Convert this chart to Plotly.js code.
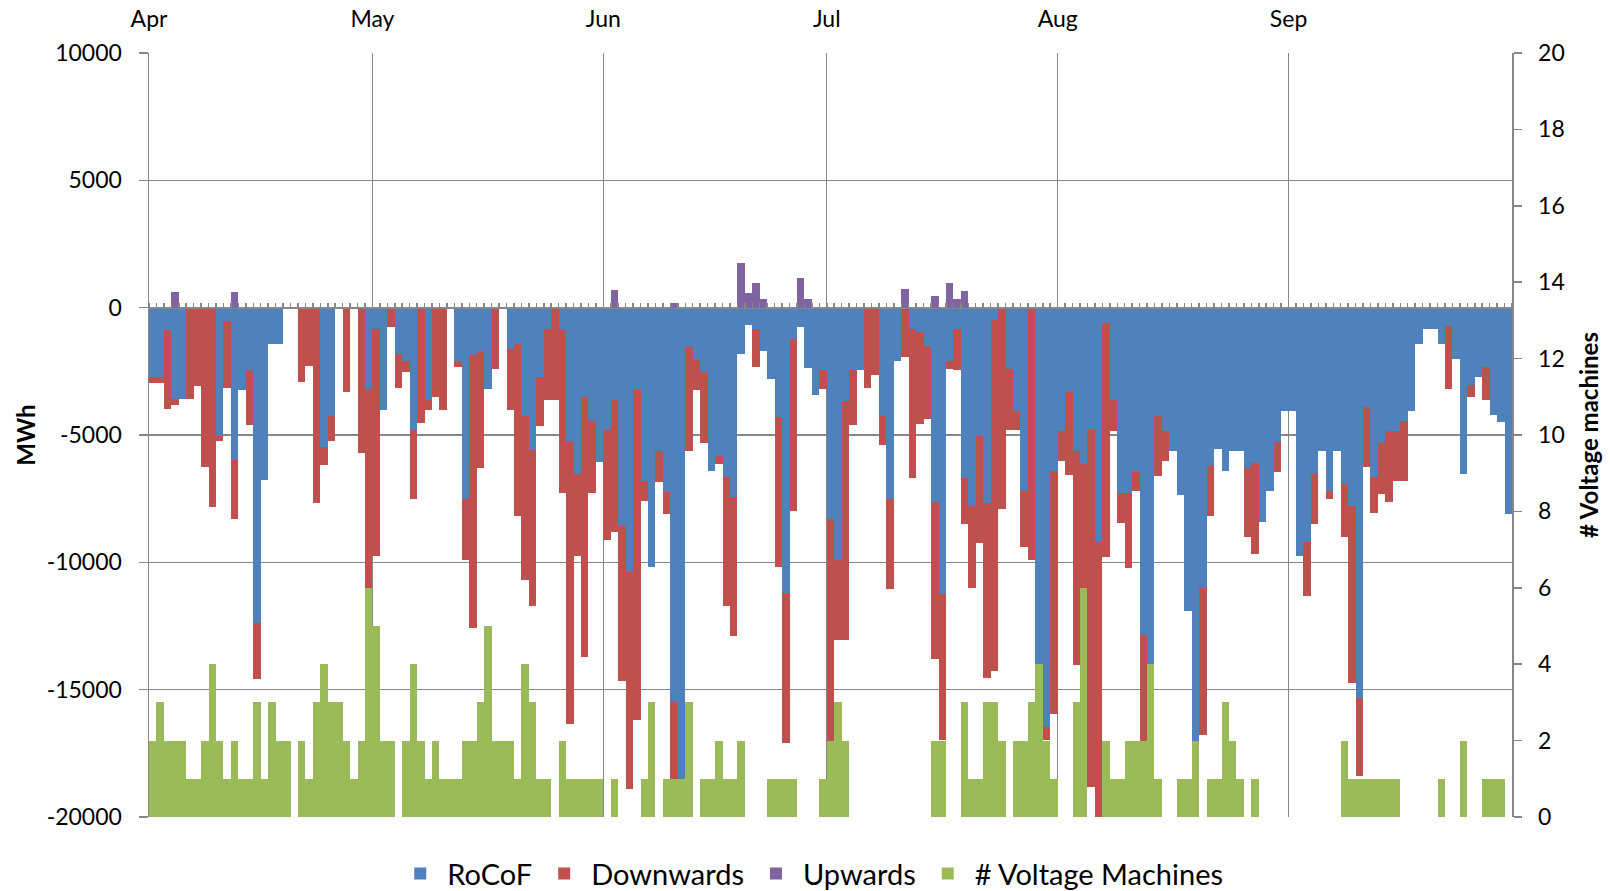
<!DOCTYPE html>
<html>
<head>
<meta charset="utf-8">
<script src="https://cdn.plot.ly/plotly-3.0.1.min.js"></script>
<style>
html,body{margin:0;padding:0;background:#ffffff;}
#chart{width:1610px;height:891px;}
</style>
</head>
<body>
<div id="chart"></div>
<script>
// ---- Data (daily, 1 Apr .. 30 Sep) ----
const firstDay = '2015-04-01';
const lastDayEnd = '2015-10-01';
const monthTicks = ['2015-04-01','2015-05-01','2015-06-01','2015-07-01','2015-08-01','2015-09-01'];
const monthLabels = ['Apr','May','Jun','Jul','Aug','Sep'];
const mwhTicks = [-20000,-15000,-10000,-5000,0,5000,10000];
const mwhLabels = ['-20000','-15000','-10000','-5000','0','5000','10000'];

// RoCoF (MWh)
const rocof = [
  -2730,-2730,-870,-3600,-3600,0,0,0,0,-5050,-540,-6000,-3220,-2440,-12380,-6780,-1410,-1410,0,0,0,0,0,-5460,-4240,0,0,0,0,-3210,
  -830,-4020,0,-1830,-2100,-4820,0,-3610,0,0,0,-2100,-7500,-1860,-1710,-3210,0,0,-1630,-1420,-4240,-5600,-2730,-830,0,-860,-5290,-6540,-3510,-4450,-6050,
  -4820,-3610,-8560,-10360,-3190,-6820,-10190,-5620,-7230,-15500,-18500,-1550,-2050,-2540,-6420,-5820,-6630,-7420,-1830,-700,-840,-1710,-2820,-4310,-11220,-1230,-740,-2380,-3410,-2440,
  -8290,-9910,-3670,-2440,-2440,0,0,-4240,-7530,-2100,0,-830,-940,-1520,-7620,-11260,-2080,-830,-6700,-7770,-5020,-7660,-480,0,-2420,-4040,-7210,0,-16470,-16470,-6430,
  -4830,-3330,-5620,-6140,-4760,-9210,-620,-3630,-7270,-7270,-6430,-12850,-14010,-4240,-4830,-5620,-7360,-11900,-20100,-10990,-6210,-5560,-6420,-5620,-5620,-6310,-6100,-8420,-7210,-5280,-4040,
  -4040,-9770,-9220,-6520,-5620,-7210,-5620,-6940,-7770,-15310,-3890,-6630,-5310,-4830,-4830,-4440,-4040,-1440,-830,-830,-1410,-730,-2000,-6520,-3030,-2730,-2320,-4220,-4470,-8110
];

// Downwards (MWh)
const downwards = [
  -220,-220,-3120,-220,0,-3600,-3090,-6270,-7810,-170,-2630,-2280,0,-2180,-2210,0,0,0,0,0,-2930,-2280,-7660,-700,-990,0,-3310,0,-5700,-7810,
  -8940,0,-770,-1340,-410,-2690,-4510,-410,-3510,-4020,0,-220,-2400,-10700,-4600,0,-2420,0,-2400,-6780,-6460,-6100,-1920,-2790,-3620,-6410,-11040,-3210,-10190,-2820,0,
  -4300,-5210,-6100,-8530,-12990,-760,0,-1210,-890,-3500,-1600,-4060,-1180,-2770,0,-320,-5080,-5490,0,0,-1480,0,0,-5880,-5880,-6760,0,0,0,-740,
  -11810,-3140,-9380,-2180,0,-3150,-2640,-1160,-3510,0,-1930,-5850,-3630,-2870,-6180,-5730,-320,-1600,-1810,-3250,-4220,-6880,-13770,-7910,-2400,-780,-2190,-9910,-3630,-510,-9540,
  -1190,-3260,-8400,-9860,-14080,-10900,-9180,-1220,-1170,-2970,-780,-4170,0,-2380,-1190,0,0,0,0,-5800,-1990,0,0,0,0,-2690,-3560,0,0,-1190,0,
  0,0,-2090,-1990,0,-290,0,-2080,-6970,-3080,-2380,-1420,-2020,-2790,-1970,-2370,0,0,0,0,0,-2480,0,0,-480,0,-1290,0,0,0
];

// Upwards (MWh)
const upwards = [
  0,0,0,610,0,0,0,0,0,0,0,610,0,0,0,0,0,0,0,0,0,0,0,0,0,0,0,0,0,0,
  0,0,0,0,0,0,0,0,0,0,0,0,0,0,0,0,0,0,0,0,0,0,0,0,0,0,0,0,0,0,0,
  0,680,0,0,0,0,0,0,0,170,0,0,0,0,0,0,0,0,1740,570,960,360,0,0,0,0,1160,360,0,0,
  0,0,0,0,0,0,0,0,0,0,740,0,0,0,450,0,960,360,670,0,0,0,0,0,0,0,0,0,0,0,0,
  0,0,0,0,0,0,0,0,0,0,0,0,0,0,0,0,0,0,0,0,0,0,0,0,0,0,0,0,0,0,0,
  0,0,0,0,0,0,0,0,0,0,0,0,0,0,0,0,0,0,0,0,0,0,0,0,0,0,0,0,0,0
];

// # Voltage Machines
const voltageMachines = [
  2,3,2,2,2,1,1,2,4,2,1,2,1,1,3,1,3,2,2,0,2,1,3,4,3,3,2,1,2,6,
  5,2,2,0,2,4,2,1,2,1,1,1,2,2,3,5,2,2,2,1,4,3,1,1,0,2,1,1,1,1,1,
  0,1,0,0,0,1,3,0,1,1,1,3,0,1,1,2,1,1,2,0,0,0,1,1,1,1,0,0,0,1,
  2,3,2,0,0,0,0,0,0,0,0,0,0,0,2,2,0,0,3,1,1,3,3,2,0,2,2,3,4,2,1,
  0,0,3,6,0,0,2,1,1,2,2,2,4,1,0,0,1,1,2,0,1,1,3,2,1,0,1,0,0,0,0,
  0,0,0,0,0,0,0,2,1,1,1,1,1,1,1,0,0,0,0,0,1,0,0,2,0,0,1,1,1,0
];

// ---- Dates (bar centred in its day) ----
const days = [];
const t0 = Date.UTC(2015, 3, 1);
for (let i = 0; i < rocof.length; i++) {
  const d = new Date(t0 + i * 86400000);
  days.push(d.toISOString().slice(0, 10) + ' 12:00');
}

const grid = '#878787';
const edge = {width: 0};

const traces = [
  {type: 'bar', name: 'RoCoF', x: days, y: rocof, xaxis: 'x', yaxis: 'y',
   marker: {color: '#4F81BD', line: edge}, hoverinfo: 'skip'},
  {type: 'bar', name: 'Downwards', x: days, y: downwards, xaxis: 'x', yaxis: 'y',
   marker: {color: '#C0504D', line: edge}, hoverinfo: 'skip'},
  {type: 'bar', name: 'Upwards', x: days, y: upwards, xaxis: 'x2', yaxis: 'y',
   marker: {color: '#8064A2', line: edge}, hoverinfo: 'skip'},
  {type: 'bar', name: '# Voltage Machines', x: days, y: voltageMachines, xaxis: 'x', yaxis: 'y2',
   marker: {color: '#9BBB59', line: edge}, hoverinfo: 'skip'}
];

const layout = {
  width: 1610, height: 891,
  margin: {l: 149, r: 98, t: 53, b: 74, pad: 0, autoexpand: false},
  paper_bgcolor: '#ffffff', plot_bgcolor: '#ffffff',
  font: {family: 'Lato, "Open Sans", sans-serif', size: 23, color: '#000000'},
  barmode: 'relative', bargap: 0,
  showlegend: true,
  legend: {orientation: 'h', x: 0.4855, xanchor: 'center', y: -0.074, yanchor: 'middle',
           font: {size: 29}, itemwidth: 44, traceorder: 'normal'},
  xaxis: {type: 'date', range: [firstDay, lastDayEnd], side: 'top',
          tickmode: 'array', tickvals: monthTicks, ticktext: monthLabels,
          showgrid: true, gridcolor: grid, gridwidth: 1.3, ticks: '', ticklabelstandoff: 20,
          showline: false, zeroline: false, fixedrange: true},
  xaxis2: {type: 'date', overlaying: 'x', range: [firstDay, lastDayEnd], anchor: 'free', position: 2/3,
           side: 'top', showline: true, linecolor: grid, linewidth: 1.5,
           ticks: 'outside', tickmode: 'linear', tick0: firstDay, dtick: 86400000,
           ticklen: 5, tickwidth: 1.5, tickcolor: grid, showticklabels: false,
           showgrid: false, zeroline: false},
  yaxis: {range: [-20000, 10000], tickmode: 'array', tickvals: mwhTicks, ticktext: mwhLabels,
          showgrid: true, gridcolor: grid, gridwidth: 1.5, zeroline: false,
          showline: true, linecolor: grid, linewidth: 1.5,
          ticks: 'outside', ticklen: 9, tickwidth: 1.5, tickcolor: grid, ticklabelstandoff: 12,
          title: {text: '<b>MWh</b>', font: {size: 24}, standoff: 4}},
  yaxis2: {range: [0, 20], tickmode: 'linear', tick0: 0, dtick: 2, overlaying: 'y', side: 'right',
           showgrid: false, zeroline: false, showline: true, linecolor: grid, linewidth: 1.5,
           ticks: 'outside', ticklen: 8, tickwidth: 1.5, tickcolor: grid, ticklabelstandoff: 12,
           title: {text: '<b># Voltage machines</b>', font: {size: 24}, standoff: 17}}
};

Plotly.newPlot('chart', traces, layout, {displayModeBar: false, staticPlot: true});
</script>
</body>
</html>
